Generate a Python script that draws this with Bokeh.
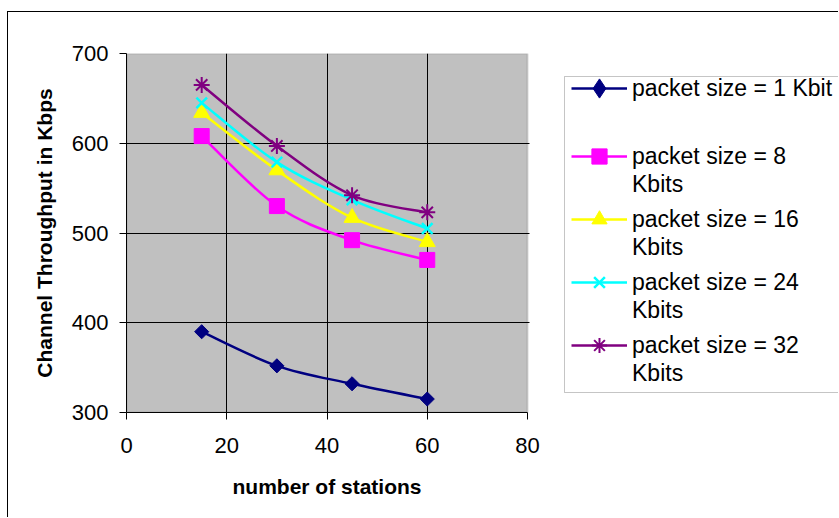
import numpy as np
from bokeh.plotting import figure
from bokeh.models import (Range1d, FixedTicker, Legend, LegendItem,
                          BoxAnnotation, ColumnDataSource, Title)
from bokeh.embed import file_html
from bokeh.resources import INLINE

# number of stations on the x axis
stations = [15, 30, 45, 60]

# channel throughput (Kbps) for each packet size
tp_1kbit = [390, 352, 332, 315]
tp_8kbit = [608, 530, 492, 470]
tp_16kbit = [634, 570, 517, 490]
tp_24kbit = [645, 579, 537, 505]
tp_32kbit = [665, 597, 542, 523]

x_ticks = [0, 20, 40, 60, 80]
y_ticks = [300, 400, 500, 600, 700]

FONT = "Liberation Sans"

# canvas layout: the frame reaches to the right edge so the legend can sit
# beside the grey plot area; the x range is widened so 0..80 spans PLOT_W px
CANVAS_W, CANVAS_H = 831, 506
LEFT, TOP, BOTTOM = 118, 41, 106
FRAME_W = CANVAS_W - LEFT
PLOT_W = 401
x_end = 80 * FRAME_W / PLOT_W

p = figure(width=CANVAS_W, height=CANVAS_H,
           x_range=Range1d(0, x_end), y_range=Range1d(300, 700),
           output_backend="svg", toolbar_location=None,
           min_border_left=LEFT, min_border_right=0,
           min_border_top=TOP, min_border_bottom=BOTTOM,
           background_fill_color="white", border_fill_color="white",
           outline_line_color=None)
p.margin = (11, 0, 0, 7)
p.styles = {"border-left": "1px solid black", "border-top": "1px solid black"}

# grey plot area with its darker rim
p.add_layout(BoxAnnotation(left=0, right=80, bottom=300, top=700,
                           fill_color="#C0C0C0", fill_alpha=1,
                           line_color="#808080", line_width=2,
                           level="image"))

# axes
p.xaxis.ticker = FixedTicker(ticks=x_ticks)
p.yaxis.ticker = FixedTicker(ticks=y_ticks)
p.xaxis.bounds = (0, 80)
p.yaxis.axis_label = "Channel Throughput in Kbps"
for ax in (p.xaxis, p.yaxis):
    ax.axis_line_color = "black"
    ax.axis_line_width = 1
    ax.major_tick_line_color = "black"
    ax.major_tick_out = 7
    ax.major_tick_in = 0
    ax.minor_tick_line_color = None
    ax.major_label_text_font = FONT
    ax.major_label_text_font_size = "22px"
    ax.major_label_text_color = "black"
    ax.axis_label_text_font = FONT
    ax.axis_label_text_font_size = "21px"
    ax.axis_label_text_font_style = "bold"
    ax.axis_label_text_color = "black"
p.xaxis.major_label_standoff = 18
p.yaxis.major_label_standoff = 11
p.yaxis.axis_label_standoff = 13

# x axis title, centred under the 0..80 span
p.add_layout(Title(text="number of stations", align="left", offset=106,
                   standoff=35, text_font=FONT, text_font_size="21px",
                   text_font_style="bold", text_color="black"), "below")

# grid lines only at interior ticks
p.xgrid.ticker = FixedTicker(ticks=[20, 40, 60])
p.ygrid.ticker = FixedTicker(ticks=[400, 500, 600])
p.xgrid.grid_line_color = "black"
p.ygrid.grid_line_color = "black"
p.xgrid.grid_line_width = 1
p.ygrid.grid_line_width = 1

# plain white band right of the grey area (hides the grid there)
canvas_units = dict(left_units="canvas", right_units="canvas",
                    top_units="canvas", bottom_units="canvas")
p.add_layout(BoxAnnotation(left=LEFT + PLOT_W + 1, right=CANVAS_W + 50,
                           top=0, bottom=CANVAS_H + 50,
                           fill_color="white", fill_alpha=1, line_color=None,
                           level="guide", **canvas_units))


def smooth_source(xs, ys):
    """Cubic Bezier segments through the points (Catmull-Rom style)."""
    xs = np.asarray(xs, dtype=float)
    ys = np.asarray(ys, dtype=float)
    n = len(xs)
    d = dict(x0=[], y0=[], x1=[], y1=[], cx0=[], cy0=[], cx1=[], cy1=[])
    for i in range(n - 1):
        a = max(i - 1, 0)
        b = min(i + 2, n - 1)
        d["x0"].append(xs[i]); d["y0"].append(ys[i])
        d["x1"].append(xs[i + 1]); d["y1"].append(ys[i + 1])
        d["cx0"].append(xs[i] + (xs[i + 1] - xs[a]) / 6)
        d["cy0"].append(ys[i] + (ys[i + 1] - ys[a]) / 6)
        d["cx1"].append(xs[i + 1] - (xs[b] - xs[i]) / 6)
        d["cy1"].append(ys[i + 1] - (ys[b] - ys[i]) / 6)
    return ColumnDataSource(d)


series = [
    ("packet size = 1 Kbit", "", tp_1kbit, "#000080",
     dict(marker="square", angle=np.pi / 4, size=10)),
    ("packet size = 8", "Kbits", tp_8kbit, "#FF00FF",
     dict(marker="square", size=15)),
    ("packet size = 16", "Kbits", tp_16kbit, "#FFFF00",
     dict(marker="triangle", size=16)),
    ("packet size = 24", "Kbits", tp_24kbit, "#00FFFF",
     dict(marker="x", size=15, line_width=2.5)),
    ("packet size = 32", "Kbits", tp_32kbit, "#800080",
     dict(marker="asterisk", size=16, line_width=2)),
]

first_items, main_items, second_items = [], [], []
for idx, (label, label2, vals, color, mk) in enumerate(series):
    curve = p.bezier(x0="x0", y0="y0", x1="x1", y1="y1",
                     cx0="cx0", cy0="cy0", cx1="cx1", cy1="cy1",
                     source=smooth_source(stations, vals),
                     line_color=color, line_width=2.5)
    dots = p.scatter(stations, vals, fill_color=color, line_color=color, **mk)
    if idx == 0:
        # legend swatch for the rotated square: a diamond of zero size in
        # the plot itself, sized by the legend box
        swatch = p.scatter(stations, vals, marker="diamond", size=0,
                           fill_color=color, line_color=color)
        first_items.append(LegendItem(label=label, renderers=[curve, swatch]))
    else:
        main_items.append(LegendItem(label=label, renderers=[curve, dots]))
        second_items.append(LegendItem(label=label2, renderers=[curve]))

legend_style = dict(glyph_width=56, glyph_height=38, label_height=38,
                    label_standoff=5, padding=0, margin=0, spacing=25,
                    border_line_color=None, background_fill_alpha=0,
                    label_text_font=FONT, label_text_font_size="23px",
                    label_text_color="black")

style1 = dict(legend_style)
style1["glyph_height"] = 48
style1["label_height"] = 48
leg_first = Legend(items=first_items, location=(445, 300), **style1)
leg_main = Legend(items=main_items, location=(445, 48), **legend_style)
style2 = dict(legend_style)
style2["glyph_width"] = 0
leg_second = Legend(items=second_items, location=(501, 20), **style2)
for lg in (leg_first, leg_main, leg_second):
    p.add_layout(lg)

# box around the legend
p.add_layout(BoxAnnotation(left=555, right=CANVAS_W + 50, top=63, bottom=379,
                           fill_color=None, line_color="#404040",
                           line_width=1, **canvas_units))

open("out.html", "w").write(file_html(p, INLINE))
